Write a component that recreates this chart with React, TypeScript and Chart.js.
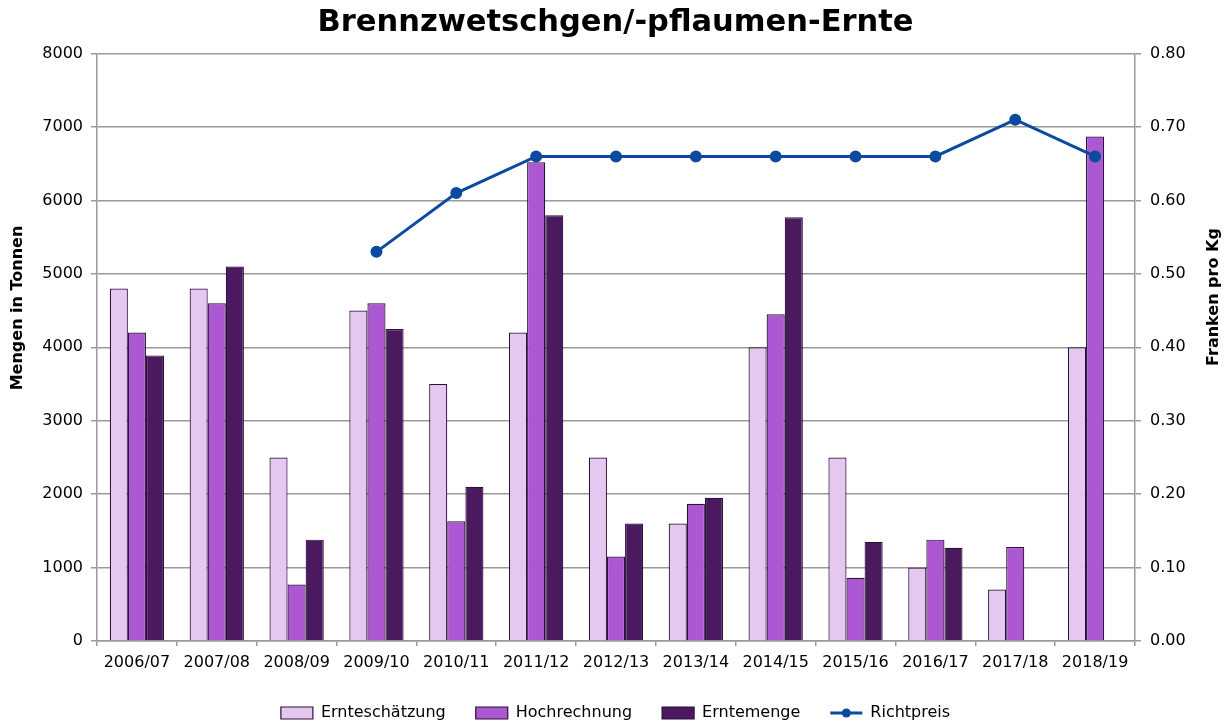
import React, { useEffect, useRef } from "react";
import { Chart, registerables } from "chart.js";

Chart.register(...registerables);

const categories = [
  "2006/07", "2007/08", "2008/09", "2009/10", "2010/11", "2011/12", "2012/13",
  "2013/14", "2014/15", "2015/16", "2016/17", "2017/18", "2018/19",
];
const ernteschaetzung = [4800, 4800, 2500, 4500, 3500, 4200, 2500, 1600, 4000, 2500, 1000, 700, 4000];
const hochrechnung = [4200, 4600, 770, 4600, 1630, 6520, 1150, 1870, 4450, 860, 1380, 1280, 6870];
const erntemenge = [3890, 5100, 1380, 4250, 2100, 5800, 1600, 1950, 5770, 1350, 1270, null, null];
const richtpreis = [null, null, null, 0.53, 0.61, 0.66, 0.66, 0.66, 0.66, 0.66, 0.66, 0.71, 0.66];

const FONT = "'DejaVu Sans', Verdana, sans-serif";
const GRID = "#9a9a9a";
const LINE_COLOR = "#0b4a9e";

export default function App() {
  const ref = useRef<HTMLCanvasElement | null>(null);

  useEffect(() => {
    if (!ref.current) return;

    const extras = {
      id: "extras",
      afterInit(chart: any) {
        const lg = chart.legend;
        if (lg) {
          const orig = lg.fit.bind(lg);
          lg.fit = function () {
            orig();
            this.height = 49;
          };
        }
      },
      afterDraw(chart: any) {
        const ctx = chart.ctx;
        ctx.save();
        ctx.fillStyle = "#000";
        ctx.font = `bold 16px ${FONT}`;
        ctx.textAlign = "center";
        ctx.textBaseline = "middle";
        ctx.translate(18, 308);
        ctx.rotate(-Math.PI / 2);
        ctx.fillText("Mengen in Tonnen", 0, 0);
        ctx.restore();

        ctx.save();
        ctx.fillStyle = "#000";
        ctx.font = `bold 16px ${FONT}`;
        ctx.textAlign = "center";
        ctx.textBaseline = "middle";
        ctx.translate(1214, 297);
        ctx.rotate(-Math.PI / 2);
        ctx.fillText("Franken pro Kg", 0, 0);
        ctx.restore();

        const lg = chart.legend;
        if (lg && lg.legendHitBoxes && lg.legendItems) {
          const idx = lg.legendItems.findIndex((it: any) => it.datasetIndex === 3);
          const hb = lg.legendHitBoxes[idx];
          if (hb) {
            const cy = hb.top + 8;
            ctx.save();
            ctx.strokeStyle = LINE_COLOR;
            ctx.lineWidth = 3;
            ctx.beginPath();
            ctx.moveTo(hb.left, cy);
            ctx.lineTo(hb.left + 32, cy);
            ctx.stroke();
            ctx.fillStyle = LINE_COLOR;
            ctx.beginPath();
            ctx.arc(hb.left + 16, cy, 4.5, 0, Math.PI * 2);
            ctx.fill();
            ctx.restore();
          }
        }
      },
    };

    const barBorder = "#2e0f3d";

    const chart = new Chart(ref.current, {
      type: "bar",
      data: {
        labels: categories,
        datasets: [
          {
            label: "Ernteschätzung",
            data: ernteschaetzung,
            backgroundColor: "#e4c8f0",
            borderColor: barBorder,
            borderWidth: 1.2,
            yAxisID: "y",
            order: 2,
          },
          {
            label: "Hochrechnung",
            data: hochrechnung,
            backgroundColor: "#ab58d2",
            borderColor: barBorder,
            borderWidth: 1.2,
            yAxisID: "y",
            order: 2,
          },
          {
            label: "Erntemenge",
            data: erntemenge,
            backgroundColor: "#4b1a5e",
            borderColor: barBorder,
            borderWidth: 1.2,
            yAxisID: "y",
            order: 2,
          },
          {
            type: "line",
            label: "Richtpreis",
            data: richtpreis,
            borderColor: LINE_COLOR,
            backgroundColor: LINE_COLOR,
            pointBackgroundColor: LINE_COLOR,
            pointBorderColor: LINE_COLOR,
            borderWidth: 3,
            pointRadius: 4.5,
            yAxisID: "y1",
            order: 0,
          } as any,
        ],
      },
      options: {
        responsive: false,
        animation: false,
        datasets: {
          bar: { categoryPercentage: 0.68, barPercentage: 1 },
        } as any,
        layout: { padding: 0 },
        plugins: {
          title: {
            display: true,
            text: "Brennzwetschgen/-pflaumen-Ernte",
            color: "#000",
            font: { family: FONT, size: 30.5, weight: "bold" },
            padding: { top: 5, bottom: 12 },
          },
          legend: {
            position: "bottom",
            labels: {
              color: "#000",
              font: { family: FONT, size: 16 },
              boxWidth: 32,
              boxHeight: 12,
              padding: 30,
              sort: (a: any, b: any) => a.datasetIndex - b.datasetIndex,
              generateLabels(chart: any) {
                const items = Chart.defaults.plugins.legend.labels.generateLabels(chart);
                return items.map((it: any) => {
                  if (it.datasetIndex === 3) {
                    return { ...it, fillStyle: "rgba(0,0,0,0)", strokeStyle: "rgba(0,0,0,0)", lineWidth: 0 };
                  }
                  return { ...it, lineWidth: 1.2, strokeStyle: barBorder };
                });
              },
            },
          },
          tooltip: { enabled: false },
        },
        scales: {
          x: {
            grid: {
              offset: true,
              drawOnChartArea: false,
              tickLength: 5,
              color: GRID,
              lineWidth: 1.5,
            },
            border: { color: GRID, width: 1.5 },
            ticks: {
              color: "#000",
              font: { family: FONT, size: 16 },
              padding: 7,
              maxRotation: 0,
              autoSkip: false,
            },
            afterFit(scale: any) {
              scale.height = 34;
            },
          },
          y: {
            position: "left",
            min: 0,
            max: 8000,
            ticks: {
              stepSize: 1000,
              color: "#000",
              font: { family: FONT, size: 16 },
              padding: 8,
              callback: (v: any) => String(v),
            },
            grid: { color: GRID, lineWidth: 1.5, tickLength: 6 },
            border: { color: GRID, width: 1.5 },
            afterFit(scale: any) {
              scale.width = 97;
            },
          },
          y1: {
            position: "right",
            min: 0,
            max: 0.8,
            ticks: {
              stepSize: 0.1,
              color: "#000",
              font: { family: FONT, size: 16 },
              padding: 9,
              callback: (v: any) => Number(v).toFixed(2),
            },
            grid: { drawOnChartArea: false, color: GRID, lineWidth: 1.5, tickLength: 6 },
            border: { color: GRID, width: 1.5 },
            afterFit(scale: any) {
              scale.width = 96;
            },
          },
        },
      },
      plugins: [extras],
    });

    return () => chart.destroy();
  }, []);

  return (
    <div style={{ position: "fixed", left: 0, top: 0, width: 1231, height: 724, background: "#fff" }}>
      <canvas ref={ref} width={1231} height={724} style={{ display: "block" }} />
    </div>
  );
}
